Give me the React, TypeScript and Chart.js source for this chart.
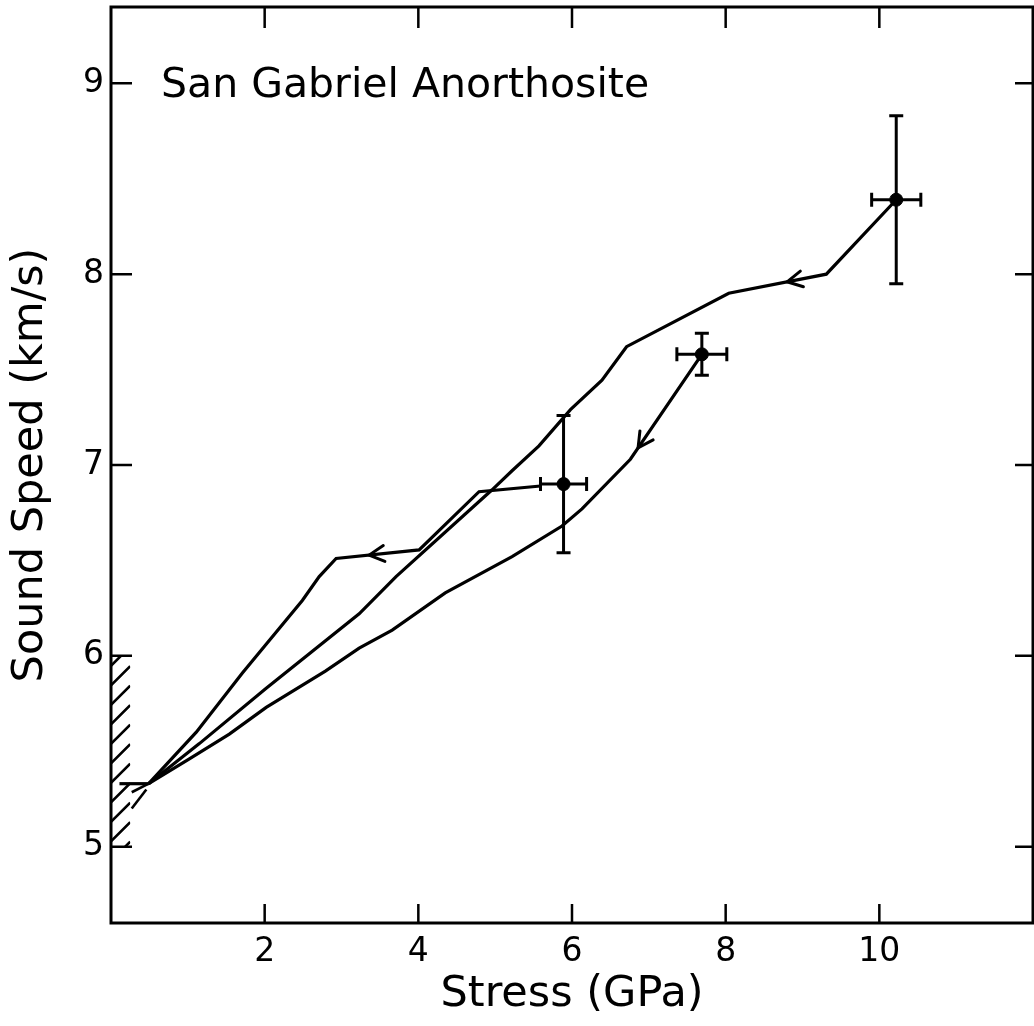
import React, { useEffect, useRef } from 'react';
import { Chart, registerables } from 'chart.js';

Chart.register(...registerables);

// ---- data ----
const upperX = [10.22, 9.31, 8.04, 6.71, 6.39, 5.98, 5.57, 5.22, 4.96, 3.71, 3.23, 2.02, 1.15, 0.49];
const upperY = [8.39, 8.0, 7.9, 7.62, 7.445, 7.29, 7.1, 6.97, 6.87, 6.415, 6.22, 5.83, 5.54, 5.33];

const lowerX = [7.69, 6.76, 6.13, 5.87, 5.22, 4.35, 3.66, 3.23, 2.79, 2.02, 1.54, 1.02, 0.49];
const lowerY = [7.58, 7.03, 6.77, 6.68, 6.52, 6.33, 6.135, 6.04, 5.92, 5.73, 5.59, 5.46, 5.33];

const steepX = [5.59, 4.79, 4.01, 2.93, 2.71, 2.49, 1.71, 1.11, 0.49];
const steepY = [6.89, 6.86, 6.555, 6.51, 6.415, 6.29, 5.91, 5.6, 5.33];

const tailX = [0.49, 0.11];
const tailY = [5.33, 5.33];
const tailArmX = [0.49, 0.27];
const tailArmY = [5.33, 5.285];
const tailDashX = [0.46, 0.27];
const tailDashY = [5.3, 5.2];

const pointX = [10.22, 7.69, 5.89];
const pointY = [8.39, 7.58, 6.9];
const pointXErr = [0.32, 0.325, 0.3];
const pointYErr = [0.44, 0.11, 0.36];

const arrowTipX = [8.8, 6.86, 3.36];
const arrowTipY = [7.96, 7.09, 6.528];
const arrowFromX = [9.31, 7.69, 4.01];
const arrowFromY = [8.0, 7.58, 6.555];

const hatchY = [5.0, 6.0];
const hatchXMax = 0.25;

const xTicks = [2, 4, 6, 8, 10];
const yTicks = [5, 6, 7, 8, 9];

const chartTitle = 'San Gabriel Anorthosite';
const xTitle = 'Stress (GPa)';
const yTitle = 'Sound Speed (km/s)';

const FONT = "'DejaVu Sans', sans-serif";

const toPts = (xs: number[], ys: number[]) => xs.map((x, i) => ({ x, y: ys[i] }));

const lineDs = (data: { x: number; y: number }[], width = 3.2) => ({
  type: 'scatter' as const,
  data,
  showLine: true,
  borderColor: '#000',
  borderWidth: width,
  pointRadius: 0,
  tension: 0,
  fill: false,
});

const zeroPad = (s: any) => {
  s.paddingTop = 0;
  s.paddingBottom = 0;
  s.paddingLeft = 0;
  s.paddingRight = 0;
};

const framePlugin = {
  id: 'framePlugin',
  afterDraw(chart: any) {
    const { ctx, chartArea: a, scales } = chart;
    const xs = scales.x;
    const ys = scales.y;
    ctx.save();
    ctx.strokeStyle = '#000';
    ctx.lineWidth = 3;
    ctx.lineCap = 'butt';
    ctx.strokeRect(a.left, a.top, a.right - a.left, a.bottom - a.top);
    ctx.lineWidth = 2.5;
    ctx.beginPath();
    xs.ticks.forEach((t: any) => {
      const p = xs.getPixelForValue(t.value);
      ctx.moveTo(p, a.bottom);
      ctx.lineTo(p, a.bottom - 19);
      ctx.moveTo(p, a.top);
      ctx.lineTo(p, a.top + 21);
    });
    ys.ticks.forEach((t: any) => {
      const p = ys.getPixelForValue(t.value);
      ctx.moveTo(a.left, p);
      ctx.lineTo(a.left + 21, p);
      ctx.moveTo(a.right, p);
      ctx.lineTo(a.right - 18, p);
    });
    ctx.stroke();

    // hatched band on the left axis
    const yTop = ys.getPixelForValue(hatchY[1]);
    const yBot = ys.getPixelForValue(hatchY[0]);
    const xr = xs.getPixelForValue(hatchXMax);
    ctx.save();
    ctx.beginPath();
    ctx.rect(a.left, yTop, xr - a.left, yBot - yTop);
    ctx.clip();
    ctx.lineWidth = 2.6;
    ctx.beginPath();
    const w = xr - a.left;
    for (let y = yTop + 10; y < yBot + w; y += 19.5) {
      ctx.moveTo(a.left, y);
      ctx.lineTo(xr, y - w);
    }
    ctx.stroke();
    ctx.restore();

    // chart title inside the plot
    ctx.fillStyle = '#000';
    ctx.font = `41px ${FONT}`;
    ctx.textBaseline = 'alphabetic';
    ctx.textAlign = 'left';
    ctx.fillText(chartTitle, a.left + 50, ys.getPixelForValue(9) + 14);
    ctx.restore();
  },
  afterDatasetsDraw(chart: any) {
    const { ctx, scales } = chart;
    const xs = scales.x;
    const ys = scales.y;
    ctx.save();
    ctx.strokeStyle = '#000';
    ctx.lineWidth = 3;
    const cap = 7;
    pointX.forEach((px, i) => {
      const cx = xs.getPixelForValue(px);
      const cy = ys.getPixelForValue(pointY[i]);
      const x0 = xs.getPixelForValue(px - pointXErr[i]);
      const x1 = xs.getPixelForValue(px + pointXErr[i]);
      const y0 = ys.getPixelForValue(pointY[i] - pointYErr[i]);
      const y1 = ys.getPixelForValue(pointY[i] + pointYErr[i]);
      ctx.beginPath();
      ctx.moveTo(x0, cy); ctx.lineTo(x1, cy);
      ctx.moveTo(x0, cy - cap); ctx.lineTo(x0, cy + cap);
      ctx.moveTo(x1, cy - cap); ctx.lineTo(x1, cy + cap);
      ctx.moveTo(cx, y0); ctx.lineTo(cx, y1);
      ctx.moveTo(cx - cap, y0); ctx.lineTo(cx + cap, y0);
      ctx.moveTo(cx - cap, y1); ctx.lineTo(cx + cap, y1);
      ctx.stroke();
    });
    // arrow heads
    ctx.lineWidth = 3;
    ctx.lineCap = 'round';
    const L = 17;
    const th = (28 * Math.PI) / 180;
    arrowTipX.forEach((tx, i) => {
      const px = xs.getPixelForValue(tx);
      const py = ys.getPixelForValue(arrowTipY[i]);
      const fx = xs.getPixelForValue(arrowFromX[i]);
      const fy = ys.getPixelForValue(arrowFromY[i]);
      const ang = Math.atan2(py - fy, px - fx);
      ctx.beginPath();
      ctx.moveTo(px - L * Math.cos(ang - th), py - L * Math.sin(ang - th));
      ctx.lineTo(px, py);
      ctx.lineTo(px - L * Math.cos(ang + th), py - L * Math.sin(ang + th));
      ctx.stroke();
    });
    ctx.restore();
  },
};

export default function App() {
  const ref = useRef<HTMLCanvasElement | null>(null);
  useEffect(() => {
    if (!ref.current) return;
    const chart = new Chart(ref.current, {
      type: 'scatter',
      data: {
        datasets: [
          lineDs(toPts(upperX, upperY)),
          lineDs(toPts(lowerX, lowerY)),
          lineDs(toPts(steepX, steepY)),
          lineDs(toPts(tailX, tailY)),
          lineDs(toPts(tailArmX, tailArmY), 2.6),
          lineDs(toPts(tailDashX, tailDashY), 2.6),
          {
            type: 'scatter',
            data: toPts(pointX, pointY),
            pointRadius: 6.5,
            pointBackgroundColor: '#000',
            pointBorderColor: '#000',
            showLine: false,
          } as any,
        ],
      },
      options: {
        animation: false,
        responsive: false,
        layout: { autoPadding: false, padding: { top: 7, right: 1, left: 0, bottom: 0 } },
        plugins: { legend: { display: false }, tooltip: { enabled: false }, title: { display: false } },
        scales: {
          x: {
            type: 'linear',
            min: 0,
            max: 12,
            grid: { display: false, drawTicks: false },
            border: { display: false },
            afterBuildTicks: (s: any) => { s.ticks = xTicks.map((v) => ({ value: v })); },
            afterFit: (s: any) => { s.height = 103; zeroPad(s); },
            ticks: {
              color: '#000',
              font: { family: FONT, size: 33 },
              padding: 10,
              maxRotation: 0,
              callback: (v: any) => String(v),
            },
            title: {
              display: true,
              text: xTitle,
              color: '#000',
              font: { family: FONT, size: 43, lineHeight: 1 },
              padding: { top: 0, bottom: 10 },
            },
          },
          y: {
            type: 'linear',
            min: 4.6,
            max: 9.4,
            grid: { display: false, drawTicks: false },
            border: { display: false },
            afterBuildTicks: (s: any) => { s.ticks = yTicks.map((v) => ({ value: v })); },
            afterFit: (s: any) => { s.width = 111; zeroPad(s); },
            ticks: {
              color: '#000',
              font: { family: FONT, size: 33 },
              padding: 7,
              callback: (v: any) => String(v),
            },
            title: {
              display: true,
              text: yTitle,
              color: '#000',
              font: { family: FONT, size: 43, lineHeight: 1 },
              padding: { top: 9, bottom: 0 },
            },
          },
        },
      },
      plugins: [framePlugin],
    } as any);
    return () => chart.destroy();
  }, []);
  return (
    <div style={{ position: 'fixed', left: 0, top: 0, width: 1034, height: 1026, background: '#fff' }}>
      <canvas ref={ref} width={1034} height={1026} style={{ width: 1034, height: 1026, display: 'block' }} />
    </div>
  );
}
